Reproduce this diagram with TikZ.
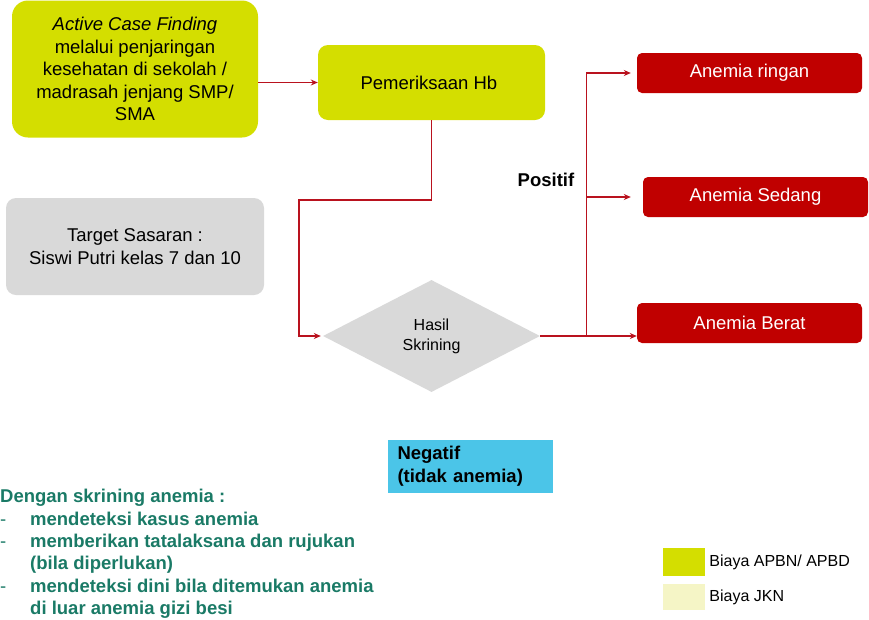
\documentclass[tikz,border=0pt]{standalone}
\usepackage{fontspec}
\setmainfont{Liberation Sans}
\usetikzlibrary{
  arrows.meta,
  positioning,
  shapes.geometric
}
\definecolor{apbn}{RGB}{212,222,0}
\definecolor{jkn}{RGB}{245,245,198}
\definecolor{boxgrey}{RGB}{217,217,217}
\definecolor{boxred}{RGB}{192,0,0}
\definecolor{linkred}{RGB}{185,18,30}
\definecolor{negcyan}{RGB}{75,197,232}
\definecolor{notegreen}{RGB}{26,122,102}
\tikzset{
  every node/.style={align=center, font=\fontsize{18.5}{22.5}\selectfont},
  limebox/.style={fill=apbn, rounded corners=10pt},
  greybox/.style={fill=boxgrey, rounded corners=10pt},
  redbox/.style={fill=boxred, text=white, rounded corners=5pt,
    minimum width=225pt, minimum height=40pt},
  keybox/.style={minimum width=42pt, inner sep=0pt},
  flow/.style={draw=linkred, line width=1.1pt, -{Stealth[length=7pt,width=6pt]}},
}

\begin{document}
\begin{tikzpicture}[x=1pt, y=-1pt]
      \useasboundingbox (0,0) rectangle (869,619);
      \node (acf) [limebox, rounded corners=16pt, minimum width=246pt, minimum height=137pt] at (135,69) {
        \textit{Active Case Finding} \\
        melalui penjaringan \\
        kesehatan di sekolah / \\
        madrasah jenjang SMP/ \\
        SMA
      };
      \node (hb) [limebox, minimum width=227pt, minimum height=75pt] at (431.5,82.5) {
        Pemeriksaan Hb
      };
      \node (target) [greybox, minimum width=258pt, minimum height=97pt] at (135,246.5) {
        Target Sasaran : \\
        Siswi Putri kelas 7 dan 10
      };
      \node (hasil) [diamond, fill=boxgrey, inner sep=0pt, minimum width=217pt, minimum height=112pt,
        font=\fontsize{16}{20}\selectfont] at (431.5,336) {
        Hasil \\
        Skrining
      };
      \node (ringan) [redbox] at (749.5,73) {Anemia ringan};
      \node (sedang) [redbox] at (755.5,197) {Anemia Sedang};
      \node (berat) [redbox] at (749.5,323) {Anemia Berat};
      \node (positif) [font=\fontsize{18.5}{22.5}\selectfont\bfseries] at (546,180) {Positif};
      \node (negatif) [fill=negcyan, align=left, text width=145pt, inner xsep=10pt,
        minimum height=53pt, font=\fontsize{18.5}{23}\selectfont\bfseries] at (470,466) {
        Negatif \\
        (tidak anemia)
      };

      % catatan skrining
      \node (note) [anchor=north west, inner sep=0pt, align=left, text=notegreen,
        font=\fontsize{18.5}{22.4}\selectfont\bfseries] at (0,489) {
        Dengan skrining anemia : \\
        \makebox[30pt][l]{\mdseries -}mendeteksi kasus anemia \\
        \makebox[30pt][l]{\mdseries -}memberikan tatalaksana dan rujukan \\
        \hspace*{30pt}(bila diperlukan) \\
        \makebox[30pt][l]{\mdseries -}mendeteksi dini bila ditemukan anemia \\
        \hspace*{30pt}di luar anemia gizi besi
      };

      % legenda
      \node (keyapbn) [keybox, fill=apbn, minimum height=28pt] at (684,562) {};
      \node (keyjkn) [keybox, fill=jkn, minimum height=26pt] at (684,597) {};
      \node [right=4pt of keyapbn, inner sep=0pt, font=\fontsize{16}{19}\selectfont] {Biaya APBN/ APBD};
      \node [right=4pt of keyjkn, inner sep=0pt, font=\fontsize{16}{19}\selectfont] {Biaya JKN};

      \coordinate (bend) at (299,200);
      \path (hasil.east) ++(46,0) coordinate (trunk);

      \draw[flow] (hb.west -| acf.east) -- (hb.west);
      \draw[flow, shorten >=2pt] (hb.south) |- (bend) |- (hasil.west);
      \draw[flow] (hasil.east) -- (hasil.east -| berat.west);
      \draw[flow, shorten >=6pt] (trunk) |- (ringan.west);
      \draw[flow, shorten >=12pt] (trunk) |- (sedang.west);
    \end{tikzpicture}
\end{document}
